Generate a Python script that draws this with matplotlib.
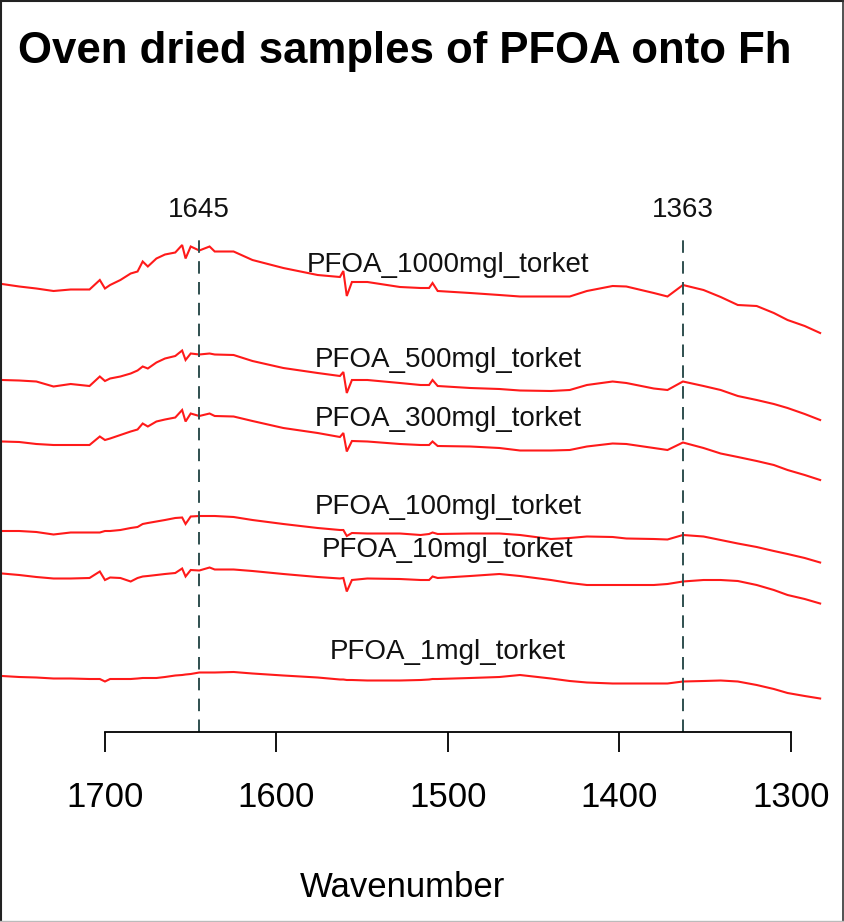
import numpy as np
import matplotlib
matplotlib.use("Agg")
import matplotlib.pyplot as plt
from matplotlib.lines import Line2D

plt.rcParams["font.family"] = ["Liberation Sans", "DejaVu Sans"]
plt.rcParams["lines.scale_dashes"] = False

# Wavenumber grid (cm^-1) shared by all spectra
wavenumber = [1760, 1750, 1740, 1730, 1720, 1709, 1703, 1700, 1697, 1691,
              1685, 1681, 1678, 1675, 1670, 1665, 1659, 1655, 1653, 1650,
              1645, 1639, 1636, 1625,
              1614, 1596, 1576, 1563, 1561, 1559, 1556, 1547, 1528, 1516,
              1511, 1509, 1506, 1487, 1470, 1458, 1440, 1429, 1419, 1404,
              1396, 1380, 1372, 1363, 1351, 1341, 1331, 1320, 1310, 1302,
              1292, 1283]

# Stacked absorbance traces (offset for display)
pfoa_1000 = [0.922, 0.917, 0.913, 0.908, 0.911, 0.911, 0.930, 0.913, 0.920, 0.930,
             0.943, 0.947, 0.967, 0.957, 0.973, 0.981, 0.985, 1.000, 0.973, 0.997,
             0.989, 0.997, 0.987, 0.987,
             0.970, 0.954, 0.940, 0.936, 0.948, 0.898, 0.926, 0.926, 0.916, 0.914,
             0.914, 0.924, 0.908, 0.904, 0.900, 0.897, 0.897, 0.897, 0.908, 0.918,
             0.917, 0.904, 0.897, 0.920, 0.910, 0.896, 0.880, 0.878, 0.864, 0.850,
             0.838, 0.824]
pfoa_500 = [0.730, 0.729, 0.727, 0.717, 0.722, 0.718, 0.737, 0.728, 0.733, 0.737,
            0.743, 0.749, 0.757, 0.753, 0.765, 0.773, 0.778, 0.789, 0.770, 0.783,
            0.781, 0.783, 0.781, 0.780,
            0.768, 0.754, 0.744, 0.738, 0.746, 0.704, 0.730, 0.730, 0.724, 0.720,
            0.720, 0.730, 0.718, 0.714, 0.712, 0.709, 0.708, 0.710, 0.720, 0.727,
            0.724, 0.713, 0.710, 0.727, 0.718, 0.710, 0.698, 0.690, 0.682, 0.674,
            0.662, 0.650]
pfoa_300 = [0.607, 0.606, 0.602, 0.600, 0.600, 0.600, 0.617, 0.610, 0.613, 0.620,
            0.627, 0.631, 0.643, 0.637, 0.647, 0.651, 0.655, 0.670, 0.647, 0.663,
            0.658, 0.663, 0.658, 0.657,
            0.648, 0.634, 0.624, 0.616, 0.624, 0.587, 0.608, 0.607, 0.602, 0.600,
            0.600, 0.607, 0.598, 0.597, 0.594, 0.589, 0.589, 0.590, 0.597, 0.603,
            0.602, 0.594, 0.590, 0.605, 0.594, 0.583, 0.576, 0.568, 0.560, 0.550,
            0.540, 0.530]
pfoa_100 = [0.428, 0.428, 0.426, 0.421, 0.425, 0.425, 0.425, 0.428, 0.428, 0.430,
            0.434, 0.436, 0.442, 0.444, 0.447, 0.450, 0.454, 0.455, 0.442, 0.457,
            0.458, 0.458, 0.458, 0.456,
            0.450, 0.442, 0.434, 0.430, 0.430, 0.418, 0.424, 0.423, 0.423, 0.420,
            0.422, 0.425, 0.422, 0.423, 0.423, 0.420, 0.412, 0.414, 0.417, 0.416,
            0.413, 0.412, 0.411, 0.420, 0.417, 0.410, 0.403, 0.396, 0.388, 0.382,
            0.374, 0.365]
pfoa_10 = [0.343, 0.340, 0.336, 0.333, 0.333, 0.334, 0.347, 0.330, 0.335, 0.334,
           0.327, 0.334, 0.337, 0.338, 0.340, 0.342, 0.344, 0.353, 0.337, 0.350,
           0.349, 0.355, 0.351, 0.351,
           0.348, 0.342, 0.336, 0.333, 0.334, 0.307, 0.330, 0.333, 0.332, 0.330,
           0.330, 0.337, 0.334, 0.338, 0.342, 0.338, 0.330, 0.324, 0.320, 0.320,
           0.320, 0.320, 0.322, 0.327, 0.330, 0.330, 0.328, 0.320, 0.310, 0.300,
           0.292, 0.283]
pfoa_1 = [0.138, 0.136, 0.135, 0.133, 0.133, 0.132, 0.132, 0.127, 0.132, 0.132,
          0.132, 0.133, 0.134, 0.134, 0.134, 0.136, 0.139, 0.140, 0.141, 0.142,
          0.145, 0.145, 0.145, 0.146,
          0.143, 0.139, 0.135, 0.131, 0.131, 0.130, 0.130, 0.129, 0.129, 0.130,
          0.131, 0.132, 0.132, 0.134, 0.136, 0.140, 0.133, 0.128, 0.125, 0.123,
          0.123, 0.123, 0.123, 0.127, 0.128, 0.129, 0.127, 0.120, 0.112, 0.104,
          0.098, 0.093]

series = [pfoa_1000, pfoa_500, pfoa_300, pfoa_100, pfoa_10, pfoa_1]
sample_names = ["PFOA_1000mgl_torket", "PFOA_500mgl_torket", "PFOA_300mgl_torket",
                "PFOA_100mgl_torket", "PFOA_10mgl_torket", "PFOA_1mgl_torket"]
marker_peaks = [1645, 1363]
x_ticks = [1700, 1600, 1500, 1400, 1300]

W, H = 845, 922
fig = plt.figure(figsize=(W / 100, H / 100), dpi=100)
ax = fig.add_axes([0, 0, 1, 1])
ax.set_xlim(1761.2, 1268.5)
ax.set_ylim(-0.354, 1.49)
ax.patch.set_alpha(0)

wn = np.array(wavenumber)
for vals, name in zip(series, sample_names):
    ax.plot(wn, vals, color="#ff1a1a", lw=1.5, solid_joinstyle="miter")
    y_lab = np.interp(1500, wn[::-1], np.array(vals)[::-1]) + 0.040
    ax.text(1500, y_lab, name, ha="center", va="baseline", fontsize=20,
            color="#111111")

axis_level = 0.026
for p in marker_peaks:
    ax.plot([p, p], [axis_level, 1.014], color="#2f4f4f", lw=1.4,
            dashes=(9, 6))
    ax.text(p, 1.056, str(p), ha="center", va="baseline", fontsize=20,
            color="#111111")

for side in ["top", "left", "right"]:
    ax.spines[side].set_visible(False)
ax.spines["bottom"].set_position(("data", axis_level))
ax.spines["bottom"].set_bounds(1700, 1300)
ax.spines["bottom"].set_linewidth(1.3)
ax.set_yticks([])
ax.set_xticks(x_ticks)
ax.set_xticklabels([str(t) for t in x_ticks])
ax.tick_params(axis="x", direction="out", length=14.4, width=1.3,
               labelsize=25, pad=21)

fig.text(18 / W, 1 - 63.5 / H, "Oven dried samples of PFOA onto Fh",
         fontsize=31.5, fontweight="bold", ha="left", va="baseline")
fig.text(403 / W, 1 - 896.5 / H, "Wavenumber", fontsize=25,
         ha="center", va="baseline")

# frame around the whole graphic
def fline(x0, y0, x1, y1, c, lw):
    fig.add_artist(Line2D([x0 / W, x1 / W], [1 - y0 / H, 1 - y1 / H],
                          color=c, lw=lw, transform=fig.transFigure))

fline(1, 0, 1, H, "#222222", 1.5)
fline(0, 1, W, 1, "#222222", 1.5)
fline(W - 2, 0, W - 2, H, "#333333", 1.2)
fline(0, H - 1.5, W, H - 1.5, "#bbbbbb", 1.0)

fig.savefig("out.png", dpi=100)
